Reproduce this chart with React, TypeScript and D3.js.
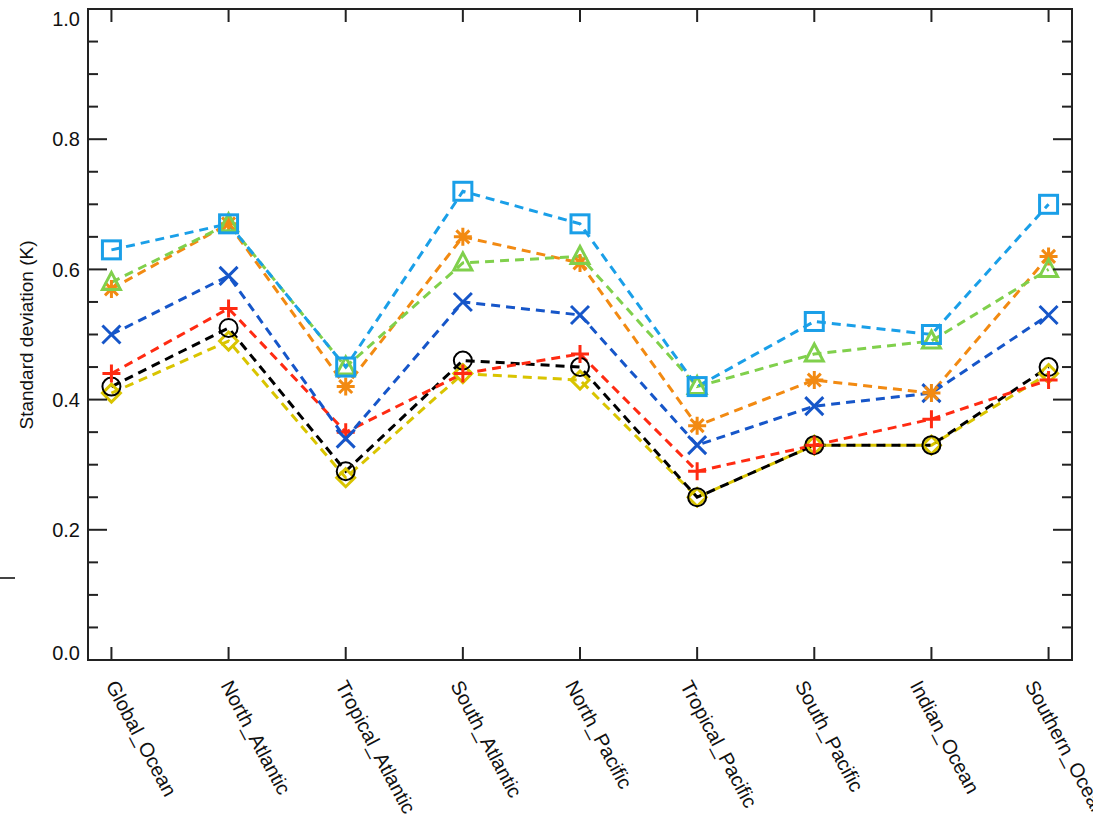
import React from "react";
import * as d3 from "d3";

const regions = [
  "Global_Ocean",
  "North_Atlantic",
  "Tropical_Atlantic",
  "South_Atlantic",
  "North_Pacific",
  "Tropical_Pacific",
  "South_Pacific",
  "Indian_Ocean",
  "Southern_Ocean",
];

const yTicks = [0.0, 0.2, 0.4, 0.6, 0.8, 1.0];

const yellowDiamond = [0.41, 0.49, 0.28, 0.44, 0.43, 0.25, 0.33, 0.33, 0.44];
const blackCircle = [0.42, 0.51, 0.29, 0.46, 0.45, 0.25, 0.33, 0.33, 0.45];
const redPlus = [0.44, 0.54, 0.35, 0.44, 0.47, 0.29, 0.33, 0.37, 0.43];
const blueCross = [0.5, 0.59, 0.34, 0.55, 0.53, 0.33, 0.39, 0.41, 0.53];
const orangeStar = [0.57, 0.67, 0.42, 0.65, 0.61, 0.36, 0.43, 0.41, 0.62];
const greenTriangle = [0.58, 0.67, 0.45, 0.61, 0.62, 0.42, 0.47, 0.49, 0.6];
const cyanSquare = [0.63, 0.67, 0.45, 0.72, 0.67, 0.42, 0.52, 0.5, 0.7];

type Series = { values: number[]; color: string; marker: string };

const series: Series[] = [
  { values: yellowDiamond, color: "#d9c400", marker: "diamond" },
  { values: blackCircle, color: "#000000", marker: "circle" },
  { values: redPlus, color: "#ff2b12", marker: "plus" },
  { values: blueCross, color: "#1656c9", marker: "cross" },
  { values: orangeStar, color: "#f28a12", marker: "star" },
  { values: greenTriangle, color: "#80d04c", marker: "triangle" },
  { values: cyanSquare, color: "#1a9fe8", marker: "square" },
];

const W = 1093;
const H = 818;
const left = 88;
const right = 1072;
const top = 9;
const bottom = 660;
const font = "'Liberation Sans', Arial, Helvetica, sans-serif";

function Marker({ kind, x, y, color }: { kind: string; x: number; y: number; color: string }) {
  const s = 9;
  const common = { fill: "none", stroke: color, strokeWidth: 3 };
  if (kind === "square")
    return <rect x={x - s} y={y - s} width={2 * s} height={2 * s} {...common} />;
  if (kind === "circle")
    return <circle cx={x} cy={y} r={s} fill="none" stroke={color} strokeWidth={2} />;
  if (kind === "diamond")
    return (
      <path d={`M${x},${y - s} L${x + s},${y} L${x},${y + s} L${x - s},${y} Z`} {...common} />
    );
  if (kind === "triangle")
    return (
      <path d={`M${x},${y - s - 1} L${x + s},${y + s - 2} L${x - s},${y + s - 2} Z`} {...common} />
    );
  if (kind === "plus")
    return <path d={`M${x - s},${y} H${x + s} M${x},${y - s} V${y + s}`} {...common} />;
  if (kind === "cross")
    return (
      <path d={`M${x - s},${y - s} L${x + s},${y + s} M${x - s},${y + s} L${x + s},${y - s}`} {...common} />
    );
  // asterisk
  const d = s * 0.72;
  return (
    <path
      d={`M${x - s},${y} H${x + s} M${x},${y - s} V${y + s} M${x - d},${y - d} L${x + d},${y + d} M${x - d},${y + d} L${x + d},${y - d}`}
      {...common}
    />
  );
}

export default function App() {
  const x = d3.scalePoint<string>().domain(regions).range([left, right]).padding(0.2);
  const y = d3.scaleLinear().domain([0, 1]).range([bottom, top]);
  // category labels are spaced slightly tighter than the ticks
  const labelX = d3
    .scalePoint<string>()
    .domain(regions)
    .range([x(regions[0]) as number, (x(regions[regions.length - 1]) as number) - 18]);
  const minor = d3.range(0, 1.0001, 0.05).filter((v) => Math.abs(v * 5 - Math.round(v * 5)) > 1e-6);

  const line = d3
    .line<number>()
    .x((_, i) => x(regions[i]) as number)
    .y((v) => y(v));

  return (
    <svg
      width={W}
      height={H}
      style={{ position: "absolute", left: 0, top: 0, background: "#fff" }}
      fontFamily={font}
    >
      <rect x={0} y={0} width={W} height={H} fill="#fff" />
      <line x1={0} x2={15} y1={578} y2={578} stroke="#444" strokeWidth={2} />

      {/* series lines, then markers on top */}
      {series.map((s, i) => (
        <path
          key={i}
          d={line(s.values) || ""}
          fill="none"
          stroke={s.color}
          strokeWidth={3}
          strokeDasharray="9,6"
        />
      ))}
      {series.map((s, i) => (
        <g key={"m" + i}>
          {s.values.map((v, j) => (
            <Marker key={j} kind={s.marker} x={x(regions[j]) as number} y={y(v)} color={s.color} />
          ))}
        </g>
      ))}

      {/* frame */}
      <rect x={left} y={top} width={right - left} height={bottom - top} fill="none" stroke="#222" strokeWidth={2} />

      {/* y ticks */}
      {yTicks.map((t) => (
        <g key={t}>
          <line x1={left} x2={left + 19} y1={y(t)} y2={y(t)} stroke="#222" strokeWidth={2} />
          <line x1={right} x2={right - 19} y1={y(t)} y2={y(t)} stroke="#222" strokeWidth={2} />
          <text
            x={80}
            y={Math.min(Math.max(y(t), 19), 653)}
            dy="0.36em"
            textAnchor="end"
            fontSize={20}
            fill="#111"
          >
            {t.toFixed(1)}
          </text>
        </g>
      ))}
      {minor.map((t) => (
        <g key={"n" + t}>
          <line x1={left} x2={left + 10} y1={y(t)} y2={y(t)} stroke="#222" strokeWidth={2} />
          <line x1={right} x2={right - 10} y1={y(t)} y2={y(t)} stroke="#222" strokeWidth={2} />
        </g>
      ))}

      {/* x ticks */}
      {regions.map((r) => (
        <g key={r}>
          <line x1={x(r)} x2={x(r)} y1={bottom} y2={bottom - 13} stroke="#222" strokeWidth={2} />
          <line x1={x(r)} x2={x(r)} y1={top} y2={top + 13} stroke="#222" strokeWidth={2} />
          <text
            transform={`translate(${labelX(r) as number},${682}) rotate(62)`}
            textAnchor="start"
            dy="0.35em"
            fontSize={20}
            fill="#111"
          >
            {r}
          </text>
        </g>
      ))}

      <text
        transform={`translate(33,${335}) rotate(-90)`}
        textAnchor="middle"
        fontSize={19}
        fill="#111"
      >
        Standard deviation (K)
      </text>
    </svg>
  );
}
